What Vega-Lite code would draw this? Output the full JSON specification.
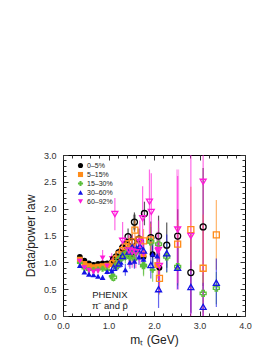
{
  "$schema": "https://vega.github.io/schema/vega-lite/v6.json",
  "width": 182,
  "height": 161,
  "autosize": {"type": "none"},
  "padding": {"left": 63, "top": 155, "right": 33, "bottom": 44},
  "background": "white",
  "config": {
    "view": {"stroke": "black", "strokeWidth": 1},
    "font": "Liberation Sans",
    "axis": {"domain": false, "grid": false, "labelFont": "Liberation Sans", "titleFont": "Liberation Sans", "labelColor": "#333", "tickColor": "#333", "labelFontSize": 9, "titleFontSize": 12, "titleFontWeight": "normal", "titleColor": "#222"}
  },
  "datasets": {
    "d": [
      {"c":"0–5%","t":"pi","mt":0.37,"v":1.10,"e":0.02},
      {"c":"0–5%","t":"pi","mt":0.47,"v":1.03,"e":0.02},
      {"c":"0–5%","t":"pi","mt":0.57,"v":0.98,"e":0.02},
      {"c":"0–5%","t":"pi","mt":0.67,"v":0.95,"e":0.02},
      {"c":"0–5%","t":"pi","mt":0.77,"v":0.97,"e":0.03},
      {"c":"0–5%","t":"pi","mt":0.87,"v":0.98,"e":0.03},
      {"c":"0–5%","t":"pi","mt":0.97,"v":0.98,"e":0.03},
      {"c":"0–5%","t":"pi","mt":1.07,"v":1.00,"e":0.05},
      {"c":"0–5%","t":"pi","mt":1.17,"v":1.05,"e":0.06},
      {"c":"0–5%","t":"pi","mt":1.27,"v":1.10,"e":0.08},
      {"c":"0–5%","t":"pi","mt":1.37,"v":1.14,"e":0.10},
      {"c":"0–5%","t":"pi","mt":1.47,"v":1.12,"e":0.12},
      {"c":"0–5%","t":"pi","mt":1.57,"v":1.18,"e":0.14},
      {"c":"0–5%","t":"pi","mt":1.77,"v":1.10,"e":0.18},
      {"c":"0–5%","t":"pi","mt":1.97,"v":1.15,"e":0.22},
      {"c":"0–5%","t":"pi","mt":2.12,"v":0.90,"e":0.28},
      {"c":"0–5%","t":"pbar","mt":1.11,"v":1.05,"e":0.06},
      {"c":"0–5%","t":"pbar","mt":1.17,"v":1.10,"e":0.07},
      {"c":"0–5%","t":"pbar","mt":1.23,"v":1.18,"e":0.08},
      {"c":"0–5%","t":"pbar","mt":1.31,"v":1.27,"e":0.10},
      {"c":"0–5%","t":"pbar","mt":1.37,"v":1.33,"e":0.12},
      {"c":"0–5%","t":"pbar","mt":1.43,"v":1.48,"e":0.15},
      {"c":"0–5%","t":"pbar","mt":1.52,"v":1.38,"e":0.15},
      {"c":"0–5%","t":"pbar","mt":1.57,"v":1.75,"e":0.18,"s":0.14},
      {"c":"0–5%","t":"pbar","mt":1.67,"v":1.43,"e":0.20},
      {"c":"0–5%","t":"pbar","mt":1.79,"v":1.91,"e":0.22},
      {"c":"0–5%","t":"pbar","mt":1.93,"v":1.46,"e":0.30},
      {"c":"0–5%","t":"pbar","mt":2.10,"v":1.49,"e":0.38},
      {"c":"0–5%","t":"pbar","mt":2.28,"v":1.32,"e":0.42},
      {"c":"0–5%","t":"pbar","mt":2.52,"v":1.49,"e":0.50},
      {"c":"0–5%","t":"pbar","mt":2.81,"v":0.81,"e":0.75},
      {"c":"0–5%","t":"pbar","mt":3.08,"v":1.66,"e":1.10},
      {"c":"5–15%","t":"pi","mt":0.37,"v":1.05,"e":0.02},
      {"c":"5–15%","t":"pi","mt":0.47,"v":0.97,"e":0.02},
      {"c":"5–15%","t":"pi","mt":0.57,"v":0.93,"e":0.02},
      {"c":"5–15%","t":"pi","mt":0.67,"v":0.91,"e":0.02},
      {"c":"5–15%","t":"pi","mt":0.77,"v":0.92,"e":0.03},
      {"c":"5–15%","t":"pi","mt":0.87,"v":0.93,"e":0.03},
      {"c":"5–15%","t":"pi","mt":0.97,"v":0.94,"e":0.04},
      {"c":"5–15%","t":"pi","mt":1.07,"v":0.97,"e":0.05},
      {"c":"5–15%","t":"pi","mt":1.17,"v":1.03,"e":0.07},
      {"c":"5–15%","t":"pi","mt":1.27,"v":1.10,"e":0.08},
      {"c":"5–15%","t":"pi","mt":1.37,"v":1.16,"e":0.10},
      {"c":"5–15%","t":"pi","mt":1.47,"v":1.18,"e":0.12},
      {"c":"5–15%","t":"pi","mt":1.57,"v":1.22,"e":0.14},
      {"c":"5–15%","t":"pi","mt":1.77,"v":1.15,"e":0.18},
      {"c":"5–15%","t":"pi","mt":2.07,"v":0.95,"e":0.25},
      {"c":"5–15%","t":"pbar","mt":1.11,"v":0.98,"e":0.06},
      {"c":"5–15%","t":"pbar","mt":1.17,"v":1.06,"e":0.07},
      {"c":"5–15%","t":"pbar","mt":1.23,"v":1.14,"e":0.08},
      {"c":"5–15%","t":"pbar","mt":1.31,"v":1.22,"e":0.10},
      {"c":"5–15%","t":"pbar","mt":1.37,"v":1.29,"e":0.12},
      {"c":"5–15%","t":"pbar","mt":1.45,"v":1.35,"e":0.14},
      {"c":"5–15%","t":"pbar","mt":1.52,"v":1.38,"e":0.15},
      {"c":"5–15%","t":"pbar","mt":1.58,"v":1.60,"e":0.18},
      {"c":"5–15%","t":"pbar","mt":1.67,"v":1.42,"e":0.20},
      {"c":"5–15%","t":"pbar","mt":1.77,"v":1.40,"e":0.22},
      {"c":"5–15%","t":"pbar","mt":1.92,"v":1.42,"e":0.30},
      {"c":"5–15%","t":"pbar","mt":2.12,"v":0.70,"e":0.30},
      {"c":"5–15%","t":"pbar","mt":2.52,"v":1.34,"e":0.45},
      {"c":"5–15%","t":"pbar","mt":2.81,"v":1.61,"e":0.80},
      {"c":"5–15%","t":"pbar","mt":3.08,"v":0.89,"e":1.00},
      {"c":"5–15%","t":"pbar","mt":3.37,"v":1.51,"e":0.65},
      {"c":"15–30%","t":"pi","mt":0.37,"v":0.99,"e":0.02},
      {"c":"15–30%","t":"pi","mt":0.47,"v":0.89,"e":0.02},
      {"c":"15–30%","t":"pi","mt":0.57,"v":0.86,"e":0.02},
      {"c":"15–30%","t":"pi","mt":0.67,"v":0.86,"e":0.03},
      {"c":"15–30%","t":"pi","mt":0.77,"v":0.87,"e":0.03},
      {"c":"15–30%","t":"pi","mt":0.87,"v":0.88,"e":0.04},
      {"c":"15–30%","t":"pi","mt":0.97,"v":0.86,"e":0.05},
      {"c":"15–30%","t":"pi","mt":1.07,"v":0.74,"e":0.08},
      {"c":"15–30%","t":"pi","mt":1.17,"v":0.95,"e":0.09},
      {"c":"15–30%","t":"pi","mt":1.27,"v":1.05,"e":0.10},
      {"c":"15–30%","t":"pi","mt":1.37,"v":1.10,"e":0.12},
      {"c":"15–30%","t":"pi","mt":1.47,"v":1.08,"e":0.13},
      {"c":"15–30%","t":"pi","mt":1.57,"v":1.05,"e":0.15},
      {"c":"15–30%","t":"pi","mt":1.77,"v":0.95,"e":0.18},
      {"c":"15–30%","t":"pi","mt":1.97,"v":0.86,"e":0.22},
      {"c":"15–30%","t":"pbar","mt":1.11,"v":0.72,"e":0.08},
      {"c":"15–30%","t":"pbar","mt":1.17,"v":0.93,"e":0.08},
      {"c":"15–30%","t":"pbar","mt":1.23,"v":1.05,"e":0.09},
      {"c":"15–30%","t":"pbar","mt":1.31,"v":1.12,"e":0.10},
      {"c":"15–30%","t":"pbar","mt":1.37,"v":1.15,"e":0.12},
      {"c":"15–30%","t":"pbar","mt":1.45,"v":1.22,"e":0.14},
      {"c":"15–30%","t":"pbar","mt":1.52,"v":1.15,"e":0.15},
      {"c":"15–30%","t":"pbar","mt":1.60,"v":1.20,"e":0.17},
      {"c":"15–30%","t":"pbar","mt":1.77,"v":0.94,"e":0.20},
      {"c":"15–30%","t":"pbar","mt":1.93,"v":1.38,"e":0.28},
      {"c":"15–30%","t":"pbar","mt":2.10,"v":1.34,"e":0.30},
      {"c":"15–30%","t":"pbar","mt":2.28,"v":1.10,"e":0.30},
      {"c":"15–30%","t":"pbar","mt":2.52,"v":0.92,"e":0.35},
      {"c":"15–30%","t":"pbar","mt":3.08,"v":0.42,"e":0.35},
      {"c":"15–30%","t":"pbar","mt":3.37,"v":0.52,"e":0.30},
      {"c":"30–60%","t":"pi","mt":0.37,"v":0.94,"e":0.02},
      {"c":"30–60%","t":"pi","mt":0.47,"v":0.82,"e":0.02},
      {"c":"30–60%","t":"pi","mt":0.57,"v":0.78,"e":0.03},
      {"c":"30–60%","t":"pi","mt":0.67,"v":0.77,"e":0.03},
      {"c":"30–60%","t":"pi","mt":0.77,"v":0.74,"e":0.03},
      {"c":"30–60%","t":"pi","mt":0.87,"v":0.72,"e":0.04},
      {"c":"30–60%","t":"pi","mt":0.97,"v":0.83,"e":0.05},
      {"c":"30–60%","t":"pi","mt":1.07,"v":0.84,"e":0.07},
      {"c":"30–60%","t":"pi","mt":1.17,"v":0.92,"e":0.08},
      {"c":"30–60%","t":"pi","mt":1.27,"v":1.00,"e":0.10},
      {"c":"30–60%","t":"pi","mt":1.37,"v":0.86,"e":0.11},
      {"c":"30–60%","t":"pi","mt":1.47,"v":1.00,"e":0.12},
      {"c":"30–60%","t":"pi","mt":1.57,"v":1.02,"e":0.14},
      {"c":"30–60%","t":"pi","mt":1.67,"v":1.10,"e":0.15},
      {"c":"30–60%","t":"pi","mt":1.77,"v":1.06,"e":0.17},
      {"c":"30–60%","t":"pi","mt":1.97,"v":1.15,"e":0.22},
      {"c":"30–60%","t":"pi","mt":2.07,"v":1.12,"e":0.25},
      {"c":"30–60%","t":"pbar","mt":1.11,"v":0.90,"e":0.08},
      {"c":"30–60%","t":"pbar","mt":1.23,"v":0.98,"e":0.09},
      {"c":"30–60%","t":"pbar","mt":1.31,"v":1.12,"e":0.10},
      {"c":"30–60%","t":"pbar","mt":1.45,"v":1.20,"e":0.13},
      {"c":"30–60%","t":"pbar","mt":1.52,"v":1.28,"e":0.15},
      {"c":"30–60%","t":"pbar","mt":1.62,"v":1.25,"e":0.17},
      {"c":"30–60%","t":"pbar","mt":1.69,"v":1.30,"e":0.18},
      {"c":"30–60%","t":"pbar","mt":1.77,"v":1.22,"e":0.20},
      {"c":"30–60%","t":"pbar","mt":1.93,"v":0.95,"e":0.25},
      {"c":"30–60%","t":"pbar","mt":2.10,"v":0.50,"e":0.35},
      {"c":"30–60%","t":"pbar","mt":2.28,"v":1.17,"e":0.35},
      {"c":"30–60%","t":"pbar","mt":2.52,"v":0.90,"e":0.40},
      {"c":"30–60%","t":"pbar","mt":2.81,"v":0.54,"e":0.50},
      {"c":"30–60%","t":"pbar","mt":3.08,"v":0.17,"e":0.45},
      {"c":"30–60%","t":"pbar","mt":3.37,"v":0.62,"e":0.45},
      {"c":"60–92%","t":"pi","mt":0.37,"v":1.02,"e":0.03},
      {"c":"60–92%","t":"pi","mt":0.47,"v":0.90,"e":0.03},
      {"c":"60–92%","t":"pi","mt":0.57,"v":0.85,"e":0.04},
      {"c":"60–92%","t":"pi","mt":0.67,"v":0.82,"e":0.04},
      {"c":"60–92%","t":"pi","mt":0.77,"v":0.84,"e":0.05},
      {"c":"60–92%","t":"pi","mt":0.87,"v":1.08,"e":0.15},
      {"c":"60–92%","t":"pi","mt":0.97,"v":0.93,"e":0.07},
      {"c":"60–92%","t":"pi","mt":1.07,"v":1.07,"e":0.10},
      {"c":"60–92%","t":"pi","mt":1.17,"v":1.00,"e":0.12},
      {"c":"60–92%","t":"pi","mt":1.27,"v":1.20,"e":0.14},
      {"c":"60–92%","t":"pi","mt":1.37,"v":1.25,"e":0.16},
      {"c":"60–92%","t":"pi","mt":1.47,"v":1.20,"e":0.18},
      {"c":"60–92%","t":"pi","mt":1.57,"v":1.18,"e":0.20},
      {"c":"60–92%","t":"pi","mt":1.67,"v":1.25,"e":0.22},
      {"c":"60–92%","t":"pi","mt":1.77,"v":1.15,"e":0.25},
      {"c":"60–92%","t":"pi","mt":2.07,"v":1.22,"e":0.35},
      {"c":"60–92%","t":"pbar","mt":1.14,"v":1.90,"e":0.30},
      {"c":"60–92%","t":"pbar","mt":1.31,"v":1.40,"e":0.35},
      {"c":"60–92%","t":"pbar","mt":1.45,"v":1.22,"e":0.30},
      {"c":"60–92%","t":"pbar","mt":1.52,"v":1.20,"e":0.30},
      {"c":"60–92%","t":"pbar","mt":1.60,"v":1.19,"e":0.30},
      {"c":"60–92%","t":"pbar","mt":1.69,"v":1.38,"e":0.40},
      {"c":"60–92%","t":"pbar","mt":1.75,"v":1.82,"e":0.60},
      {"c":"60–92%","t":"pbar","mt":1.90,"v":2.13,"e":0.60},
      {"c":"60–92%","t":"pbar","mt":1.94,"v":1.94,"e":0.72},
      {"c":"60–92%","t":"pbar","mt":2.10,"v":1.23,"e":0.55},
      {"c":"60–92%","t":"pbar","mt":2.12,"v":0.93,"e":0.50},
      {"c":"60–92%","t":"pbar","mt":2.52,"v":1.61,"e":1.00,"s":1.12},
      {"c":"60–92%","t":"pbar","mt":2.81,"v":1.49,"e":1.60},
      {"c":"60–92%","t":"pbar","mt":3.08,"v":2.50,"e":2.60}
    ]
  },
  "data": {"name": "d"},
  "encoding": {
    "x": {"field": "mt", "type": "quantitative", "scale": {"domain": [0, 4], "nice": false, "zero": false}},
    "y": {"field": "v", "type": "quantitative", "scale": {"domain": [0, 3], "nice": false, "zero": false}}
  },
  "layer": [
    {
      "transform": [{"filter": "isValid(datum.s)"}],
      "mark": {"type": "errorbar", "clip": true, "thickness": 3, "rule": {"opacity": 0.35, "strokeWidth": 3}},
      "encoding": {
        "x": {"field": "mt", "type": "quantitative", "axis": null},
        "y": {"field": "v", "type": "quantitative", "axis": null},
        "yError": {"field": "s"},
        "color": {"field": "c", "type": "nominal", "legend": null, "scale": {"domain": ["0–5%", "5–15%", "15–30%", "30–60%", "60–92%"], "range": ["#000000", "#ff8c1a", "#5cbf3c", "#1414e6", "#ff1ad9"]}}
      }
    },
    {
      "mark": {"type": "errorbar", "clip": true, "rule": {"opacity": 0.65, "strokeWidth": 1.2}},
      "encoding": {
        "x": {"field": "mt", "type": "quantitative", "title": "mₜ (GeV)",
          "axis": {"orient": "bottom", "values": [0,0.2,0.4,0.6,0.8,1,1.2,1.4,1.6,1.8,2,2.2,2.4,2.6,2.8,3,3.2,3.4,3.6,3.8,4],
            "labelExpr": "abs(datum.value-round(datum.value))<0.001 ? format(datum.value,'.1f') : ''",
            "tickSize": {"condition": {"test": "abs(datum.value-round(datum.value))<0.001", "value": -5}, "value": -3},
            "labelPadding": 10, "labelFlush": false, "labelOverlap": false, "titlePadding": 2}},
        "y": {"field": "v", "type": "quantitative", "title": "Data/power law",
          "axis": {"orient": "left", "values": [0,0.1,0.2,0.3,0.4,0.5,0.6,0.7,0.8,0.9,1,1.1,1.2,1.3,1.4,1.5,1.6,1.7,1.8,1.9,2,2.1,2.2,2.3,2.4,2.5,2.6,2.7,2.8,2.9,3],
            "labelExpr": "abs(datum.value*2-round(datum.value*2))<0.001 ? format(datum.value,'.1f') : ''",
            "tickSize": {"condition": {"test": "abs(datum.value*2-round(datum.value*2))<0.001", "value": -5}, "value": -3},
            "labelPadding": 12, "labelFlush": false, "labelOverlap": false, "titlePadding": 6}},
        "yError": {"field": "e"},
        "color": {"field": "c", "type": "nominal", "legend": null}
      }
    },
    {
      "transform": [{"filter": "datum.t == 'pi'"}],
      "mark": {"type": "point", "filled": true, "size": 34, "opacity": 1},
      "encoding": {
        "x": {"field": "mt", "type": "quantitative",
          "axis": {"orient": "top", "values": [0,0.2,0.4,0.6,0.8,1,1.2,1.4,1.6,1.8,2,2.2,2.4,2.6,2.8,3,3.2,3.4,3.6,3.8,4], "labels": false, "title": null,
            "tickSize": {"condition": {"test": "abs(datum.value-round(datum.value))<0.001", "value": -5}, "value": -3}}},
        "y": {"field": "v", "type": "quantitative",
          "axis": {"orient": "right", "values": [0,0.1,0.2,0.3,0.4,0.5,0.6,0.7,0.8,0.9,1,1.1,1.2,1.3,1.4,1.5,1.6,1.7,1.8,1.9,2,2.1,2.2,2.3,2.4,2.5,2.6,2.7,2.8,2.9,3], "labels": false, "title": null,
            "tickSize": {"condition": {"test": "abs(datum.value*2-round(datum.value*2))<0.001", "value": -5}, "value": -3}}},
        "color": {"field": "c", "type": "nominal",
          "legend": {"orient": "none", "legendX": 14, "legendY": 7, "title": null, "labelFontSize": 7, "labelFont": "Liberation Sans", "labelColor": "#222", "symbolSize": 26, "rowPadding": 1, "labelOffset": 3, "padding": 0, "symbolStrokeWidth": 0}},
        "shape": {"field": "c", "type": "nominal", "scale": {"domain": ["0–5%", "5–15%", "15–30%", "30–60%", "60–92%"], "range": ["circle", "square", "cross", "triangle-up", "triangle-down"]},
          "legend": {"orient": "none", "legendX": 14, "legendY": 7, "title": null, "labelFontSize": 7, "labelFont": "Liberation Sans", "labelColor": "#222", "symbolSize": 26, "rowPadding": 1, "labelOffset": 3, "padding": 0, "symbolStrokeWidth": 0}}
      }
    },
    {
      "transform": [{"filter": "datum.t == 'pbar'"}],
      "mark": {"type": "point", "filled": false, "size": 36, "strokeWidth": 1.3, "opacity": 1},
      "encoding": {
        "x": {"field": "mt", "type": "quantitative", "axis": null},
        "y": {"field": "v", "type": "quantitative", "axis": null},
        "color": {"field": "c", "type": "nominal", "legend": null},
        "shape": {"field": "c", "type": "nominal", "legend": null}
      }
    },
    {
      "data": {"values": [{"mt": 1.03, "v": 0.40, "label": "PHENIX"}, {"mt": 1.03, "v": 0.18, "label": "π⁻ and p̄"}]},
      "mark": {"type": "text", "fontSize": 9.5, "font": "Liberation Sans", "color": "#222"},
      "encoding": {
        "x": {"field": "mt", "type": "quantitative", "axis": null},
        "y": {"field": "v", "type": "quantitative", "axis": null},
        "text": {"field": "label"}
      }
    }
  ],
  "resolve": {"axis": {"x": "independent", "y": "independent"}, "legend": {"color": "independent", "shape": "independent"}}
}
